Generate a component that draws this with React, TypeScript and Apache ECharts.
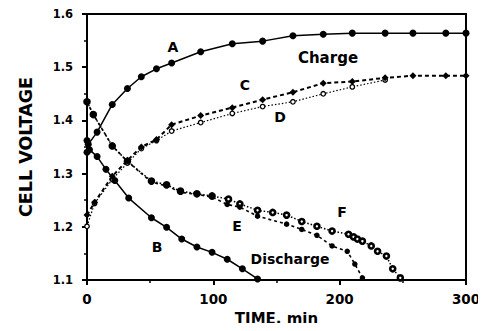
import React, { useEffect, useRef } from "react";
import * as echarts from "echarts";

const seriesA: [number, number][] = [
  [0, 1.34], [1, 1.355], [8, 1.378], [20, 1.43], [32, 1.46], [43, 1.482], [55, 1.497],
  [67, 1.508], [90, 1.529], [115, 1.544], [139, 1.549], [163, 1.559], [187, 1.562],
  [210, 1.564], [236, 1.564], [258, 1.564], [284, 1.564], [300, 1.564],
];
const seriesB: [number, number][] = [
  [0, 1.362], [2, 1.345], [8, 1.332], [15, 1.308], [22, 1.287], [33, 1.254], [51, 1.217],
  [63, 1.199], [75, 1.177], [87, 1.162], [99, 1.152], [111, 1.139], [123, 1.121], [135, 1.102],
];
const seriesC: [number, number][] = [
  [0, 1.222], [6, 1.246], [20, 1.295], [32, 1.325], [43, 1.35], [55, 1.364], [67, 1.392],
  [90, 1.409], [115, 1.424], [139, 1.439], [163, 1.453], [187, 1.47], [210, 1.473],
  [236, 1.48], [258, 1.484], [284, 1.484], [300, 1.484],
];
const seriesD: [number, number][] = [
  [0, 1.201], [6, 1.244], [20, 1.289], [32, 1.32], [43, 1.347], [55, 1.362], [67, 1.38],
  [90, 1.396], [115, 1.413], [139, 1.426], [163, 1.435], [187, 1.45], [210, 1.463], [236, 1.476],
];
const seriesE: [number, number][] = [
  [0, 1.435], [5, 1.411], [20, 1.352], [32, 1.323], [51, 1.284], [63, 1.277], [74, 1.265],
  [87, 1.261], [99, 1.256], [111, 1.242], [121, 1.237], [135, 1.22], [158, 1.205],
  [170, 1.195], [182, 1.184], [194, 1.164], [206, 1.154], [212, 1.13], [218, 1.104],
];
const seriesF: [number, number][] = [
  [0, 1.435], [5, 1.411], [20, 1.352], [32, 1.323], [51, 1.286], [63, 1.279], [74, 1.267],
  [87, 1.262], [99, 1.258], [112, 1.252], [121, 1.243], [135, 1.231], [147, 1.227],
  [158, 1.222], [170, 1.21], [182, 1.201], [194, 1.192], [207, 1.186], [211, 1.181],
  [214, 1.177], [218, 1.173], [225, 1.164], [230, 1.154], [237, 1.145], [242, 1.121], [248, 1.104],
];

const xTicks = [0, 100, 200, 300];
const yTicks = [1.1, 1.2, 1.3, 1.4, 1.5, 1.6];

const annotations: { text: string; x: number; y: number; size: number }[] = [
  { text: "A", x: 173, y: 47, size: 14 },
  { text: "Charge", x: 328, y: 58, size: 15 },
  { text: "C", x: 245, y: 85, size: 14 },
  { text: "D", x: 280, y: 117, size: 14 },
  { text: "E", x: 237, y: 226, size: 14 },
  { text: "F", x: 342, y: 212, size: 14 },
  { text: "B", x: 157, y: 247, size: 14 },
  { text: "Discharge", x: 290, y: 259, size: 14 },
];

const FONT = "DejaVu Sans";

export default function App() {
  const ref = useRef<HTMLDivElement>(null);
  useEffect(() => {
    if (!ref.current) return;
    const chart = echarts.init(ref.current, null, { renderer: "svg" });
    const mk = (data: [number, number][], opts: any) => ({
      type: "line",
      data,
      showSymbol: true,
      ...opts,
    });
    chart.setOption({
      animation: false,
      backgroundColor: "#fff",
      grid: {
        left: 87, right: 20, top: 14, bottom: 50,
        show: true, borderColor: "#000", borderWidth: 2, backgroundColor: "transparent",
      },
      xAxis: {
        type: "value",
        min: xTicks[0],
        max: xTicks[xTicks.length - 1],
        interval: 100,
        name: "TIME, min",
        nameLocation: "middle",
        nameGap: 31,
        nameTextStyle: { fontFamily: FONT, fontWeight: "bold", fontSize: 15, color: "#000" },
        axisLine: { show: true, lineStyle: { color: "#000", width: 2 } },
        axisTick: { show: true, length: 5, lineStyle: { color: "#000", width: 2 } },
        minorTick: { show: true, splitNumber: 2, length: 3, lineStyle: { color: "#000", width: 1.5 } },
        splitLine: { show: false },
        axisLabel: { margin: 12, fontFamily: FONT, fontWeight: "bold", fontSize: 13.5, color: "#000" },
      },
      yAxis: {
        type: "value",
        min: yTicks[0],
        max: yTicks[yTicks.length - 1],
        interval: 0.1,
        name: "CELL VOLTAGE",
        nameLocation: "middle",
        nameGap: 52,
        nameTextStyle: { fontFamily: FONT, fontWeight: "bold", fontSize: 17.5, color: "#000" },
        axisLine: { show: true, lineStyle: { color: "#000", width: 2 } },
        axisTick: { show: true, length: 5, lineStyle: { color: "#000", width: 2 } },
        minorTick: { show: true, splitNumber: 2, length: 3, lineStyle: { color: "#000", width: 1.5 } },
        splitLine: { show: false },
        axisLabel: {
          margin: 14, fontFamily: FONT, fontWeight: "bold", fontSize: 11.5, color: "#000",
          formatter: (v: number) => v.toFixed(1),
        },
      },
      graphic: annotations.map((a) => ({
        type: "text",
        x: a.x,
        y: a.y,
        style: {
          text: a.text, fill: "#000", font: `bold ${a.size}px "${FONT}"`,
          textAlign: "center", textVerticalAlign: "middle",
        },
        z: 10,
      })),
      series: [
        mk(seriesE, {
          symbol: "circle", symbolSize: 5.5,
          itemStyle: { color: "#000" },
          lineStyle: { color: "#000", width: 1.6, type: [3, 3] },
          z: 3,
        }),
        mk(seriesF, {
          symbol: "circle", symbolSize: 5,
          itemStyle: { color: "#fff", borderColor: "#000", borderWidth: 2.6 },
          lineStyle: { color: "#000", width: 1.5, type: [1.5, 2] },
          z: 2,
        }),
        mk(seriesD, {
          symbol: "circle", symbolSize: 4.5,
          itemStyle: { color: "#fff", borderColor: "#000", borderWidth: 1.3 },
          lineStyle: { color: "#000", width: 1.2, type: [1.5, 2] },
          z: 2,
        }),
        mk(seriesC, {
          symbol: "diamond", symbolSize: 7,
          itemStyle: { color: "#000" },
          lineStyle: { color: "#000", width: 2, type: [4, 3] },
          z: 3,
        }),
        mk(seriesA, {
          symbol: "circle", symbolSize: 7,
          itemStyle: { color: "#000" },
          lineStyle: { color: "#000", width: 1.5 },
          z: 4,
        }),
        mk(seriesB, {
          symbol: "circle", symbolSize: 7,
          itemStyle: { color: "#000" },
          lineStyle: { color: "#000", width: 1.5 },
          z: 4,
        }),
      ],
    });
    return () => chart.dispose();
  }, []);
  return <div ref={ref} style={{ width: 486, height: 331, margin: -8 }} />;
}
